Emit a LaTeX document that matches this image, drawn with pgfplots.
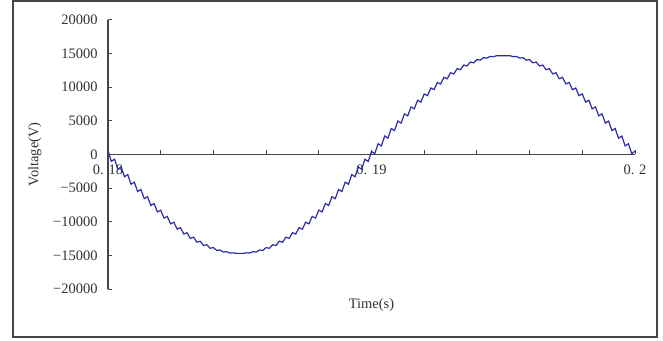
\documentclass[border=0pt]{standalone}
\usepackage{fontspec}
\setmainfont{Liberation Serif}
\usepackage{pgfplots}
\usepackage{pgfplotstable}
\pgfplotsset{compat=1.18}
\definecolor{curve}{RGB}{45,45,165}
\definecolor{axgray}{RGB}{70,70,70}
\definecolor{txtgray}{RGB}{50,50,50}
\pgfplotstableread{
t v
0.18 600
0.180125 -1027
0.18025 -704
0.180375 -2175
0.1805 -1856
0.180625 -3309
0.18075 -2994
0.180875 -4424
0.181 -4115
0.181125 -5510
0.18125 -5209
0.181375 -6562
0.1815 -6273
0.181625 -7576
0.18175 -7297
0.181875 -8541
0.182 -8276
0.182125 -9455
0.18225 -9205
0.182375 -10308
0.1825 -10077
0.182625 -11101
0.18275 -10885
0.182875 -11823
0.183 -11629
0.183125 -12474
0.18325 -12298
0.183375 -13047
0.1835 -12894
0.183625 -13539
0.18375 -13408
0.183875 -13947
0.184 -13841
0.184125 -14270
0.18425 -14189
0.184375 -14507
0.1845 -14448
0.184625 -14651
0.18475 -14619
0.184875 -14707
0.185 -14700
0.185125 -14707
0.18525 -14619
0.185375 -14651
0.1855 -14448
0.185625 -14507
0.18575 -14189
0.185875 -14270
0.186 -13841
0.186125 -13947
0.18625 -13408
0.186375 -13539
0.1865 -12894
0.186625 -13047
0.18675 -12298
0.186875 -12474
0.187 -11629
0.187125 -11823
0.18725 -10885
0.187375 -11101
0.1875 -10077
0.187625 -10308
0.18775 -9205
0.187875 -9455
0.188 -8276
0.188125 -8541
0.18825 -7297
0.188375 -7576
0.1885 -6273
0.188625 -6562
0.18875 -5209
0.188875 -5510
0.189 -4115
0.189125 -4424
0.18925 -2994
0.189375 -3309
0.1895 -1856
0.189625 -2175
0.18975 -704
0.189875 -1027
0.19 450
0.190125 127
0.19025 1602
0.190375 1281
0.1905 2744
0.190625 2427
0.19075 3870
0.190875 3556
0.191 4971
0.191125 4666
0.19125 6041
0.191375 5746
0.1915 7075
0.191625 6790
0.19175 8065
0.191875 7793
0.192 9006
0.192125 8747
0.19225 9889
0.192375 9648
0.1925 10713
0.192625 10489
0.19275 11471
0.192875 11265
0.193 12157
0.193125 11972
0.19325 12770
0.193375 12605
0.1935 13302
0.193625 13161
0.19375 13754
0.193875 13635
0.194 14121
0.194125 14026
0.19425 14399
0.194375 14329
0.1945 14590
0.194625 14545
0.19475 14691
0.194875 14671
0.195 14700
0.195125 14671
0.19525 14691
0.195375 14545
0.1955 14590
0.195625 14329
0.19575 14399
0.195875 14026
0.196 14121
0.196125 13635
0.19625 13754
0.196375 13161
0.1965 13302
0.196625 12605
0.19675 12770
0.196875 11972
0.197 12157
0.197125 11265
0.19725 11471
0.197375 10489
0.1975 10713
0.197625 9648
0.19775 9889
0.197875 8747
0.198 9006
0.198125 7793
0.19825 8065
0.198375 6790
0.1985 7075
0.198625 5746
0.19875 6041
0.198875 4666
0.199 4971
0.199125 3556
0.19925 3870
0.199375 2427
0.1995 2744
0.199625 1281
0.19975 1602
0.199875 127
0.2 500
}\voltdata
\begin{document}
\begin{tikzpicture}
\path[use as bounding box] (-108bp,-52bp) rectangle (555bp,289bp);
\fill[white] (-108bp,-52bp) rectangle (555bp,289bp);
\draw[axgray, line width=1.6bp] (-95bp,-48bp) rectangle (549bp,288bp);
\begin{axis}[
  scale only axis, width=527bp, height=269bp,
  xmin=0.18, xmax=0.2, ymin=-20000, ymax=20000,
  axis x line=middle, axis y line=left,
  axis line style={-, axgray, line width=1.2bp},
  hide obscured x ticks=false, hide obscured y ticks=false,
  scaled y ticks=false, scaled x ticks=false,
  tick align=inside,
  major tick length=4bp,
  tick style={axgray, line width=1bp},
  xtick={0.18,0.182,0.184,0.186,0.188,0.19,0.192,0.194,0.196,0.198,0.2},
  xticklabels={0. 18,{},{},{},{},0. 19,{},{},{},{},0. 2},
  ytick={-20000,-15000,-10000,-5000,0,5000,10000,15000,20000},
  yticklabels={−20000,−15000,−10000,−5000,0,5000,10000,15000,20000},
  tick label style={font=\fontsize{14.5}{16}\selectfont, text=txtgray},
  x tick label style={yshift=-7bp},
  y tick label style={xshift=-7bp},
  every axis x label/.style={at={(axis description cs:0.5,0)}, anchor=north, yshift=-6bp, font=\fontsize{14.5}{16}\selectfont, text=txtgray},
  every axis y label/.style={at={(axis description cs:0,0.5)}, xshift=-73bp, rotate=90, anchor=center, font=\fontsize{14.5}{16}\selectfont, text=txtgray},
  xlabel={Time(s)},
  ylabel={Voltage(V)},
]
\addplot[curve, line width=1.2bp, mark=none] table[x=t, y=v] {\voltdata};
\end{axis}
\end{tikzpicture}
\end{document}
